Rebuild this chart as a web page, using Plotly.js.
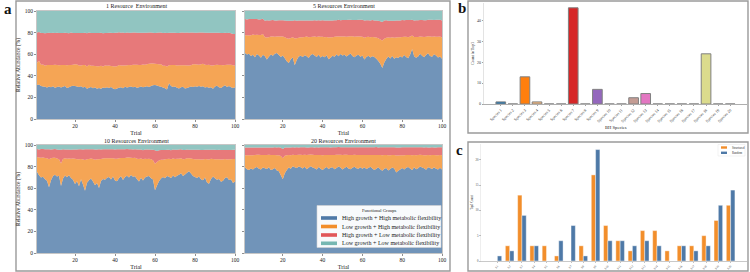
<!DOCTYPE html>
<html>
<head>
<meta charset="utf-8">
<script src="https://cdn.plot.ly/plotly-3.0.1.min.js"></script>
<style>
  html, body { margin: 0; padding: 0; background: #fff; }
  #chart { width: 750px; height: 272px; }
</style>
</head>
<body>
<div id="chart"></div>
<script>
// ---------- Panel a: relative abundance of functional groups per trial ----------
const groupNames = [
  'High growth + High metabolic flexibility',
  'Low growth + High metabolic flexibility',
  'High growth + Low metabolic flexibility',
  'Low growth + Low metabolic flexibility'
];
const envTitles = [
  '1 Resource  Environment',
  '5 Resources Environment',
  '10 Resources Environment',
  '20 Resources Environment'
];

// 1 resource
const r1HighHigh = [
  31.5, 32.0, 30.5, 30.0, 29.8, 29.2, 30.1, 29.5, 30.4, 29.0,
  29.6, 30.2, 29.1, 29.9, 30.5, 28.8, 29.4, 30.3, 30.8, 30.6,
  30.0, 29.7, 30.4, 29.2, 29.9, 28.1, 28.9, 29.6, 28.4, 29.3,
  28.0, 28.6, 27.9, 29.1, 28.7, 29.5, 28.8, 29.6, 28.2, 27.6,
  28.3, 28.9, 29.4, 28.5, 29.8, 29.1, 29.6, 30.0, 29.3, 29.8,
  28.9, 29.5, 30.1, 29.4, 29.9, 30.3, 29.7, 30.6, 31.2, 31.5,
  31.0, 30.4, 29.8, 29.1, 28.4, 27.2, 33.0, 30.5, 29.6, 30.2,
  29.0, 28.3, 29.4, 29.9, 28.2, 28.8, 29.5, 30.2, 29.7, 30.4,
  29.8, 30.6, 29.9, 30.3, 29.1, 29.7, 28.9, 29.5, 27.9, 30.1,
  30.9, 29.4, 28.7, 30.0, 31.2, 29.6, 30.5, 29.3, 28.8, 29.4
];
const r1LowHigh = [
  20.5, 22.0, 19.8, 20.4, 19.6, 20.8, 19.9, 20.6, 19.7, 21.2,
  20.3, 19.6, 20.9, 20.1, 19.4, 21.0, 20.5, 19.8, 19.5, 20.0,
  20.4, 19.9, 19.2, 20.8, 20.1, 20.6, 21.3, 19.7, 21.0, 19.8,
  20.9, 20.2, 21.5, 19.6, 20.8, 19.9, 20.7, 19.5, 20.6, 21.0,
  20.5, 21.2, 20.1, 21.0, 19.8, 20.6, 20.3, 19.7, 20.9, 20.4,
  21.3, 20.6, 20.0, 21.1, 20.3, 20.5, 21.4, 20.8, 20.2, 19.6,
  19.9, 20.3, 20.9, 20.2, 20.8, 21.5, 16.8, 19.6, 20.5, 19.8,
  20.6, 21.4, 20.3, 19.9, 21.6, 20.8, 20.1, 19.5, 20.9, 20.2,
  20.6, 19.7, 20.8, 20.9, 21.2, 20.4, 21.3, 20.1, 21.6, 19.8,
  19.4, 20.5, 21.2, 19.8, 18.9, 20.6, 19.7, 20.9, 21.0, 19.8
];
const r1HighLow = [
  28.2, 26.5, 29.4, 29.3, 30.1, 29.6, 29.8, 29.5, 29.7, 29.4,
  29.9, 29.8, 29.6, 29.7, 29.9, 29.8, 29.6, 29.9, 29.3, 29.0,
  29.2, 30.1, 30.0, 29.6, 29.8, 30.8, 29.9, 30.3, 30.2, 30.5,
  30.7, 30.9, 30.4, 30.6, 30.2, 30.3, 30.4, 30.7, 30.9, 31.2,
  31.0, 30.2, 30.4, 30.5, 30.1, 30.3, 29.9, 30.1, 29.8, 29.9,
  29.6, 29.8, 29.7, 29.4, 29.7, 29.1, 28.9, 28.7, 28.4, 28.6,
  28.9, 29.5, 29.3, 30.4, 30.6, 31.0, 30.1, 29.8, 29.7, 29.9,
  30.1, 30.0, 30.3, 30.2, 30.1, 30.4, 30.2, 30.5, 29.6, 29.3,
  29.5, 29.9, 29.3, 29.0, 29.6, 29.8, 29.6, 30.2, 30.4, 30.0,
  29.6, 30.0, 29.8, 29.9, 29.7, 29.5, 29.6, 29.1, 29.0, 29.4
];

// 5 resources
const r5HighHigh = [
  61.2, 59.8, 60.5, 58.4, 59.6, 57.2, 60.1, 58.9, 56.8, 59.4,
  58.2, 55.1, 57.6, 59.8, 58.5, 60.4, 61.0, 59.2, 57.4, 58.8,
  56.2, 53.5, 51.8, 55.4, 57.0, 49.8, 54.6, 57.9, 58.6, 57.3,
  59.1, 58.0, 56.5, 59.3, 60.2, 58.7, 57.5, 59.6, 56.9, 58.4,
  57.2, 59.0, 55.3, 56.8, 58.5, 57.6, 59.9, 58.1, 60.3, 58.7,
  59.5, 57.8, 59.2, 60.6, 58.3, 57.1, 58.9, 59.6, 57.7, 58.9,
  55.2, 57.4, 58.6, 56.9, 58.0, 57.3, 55.8, 53.6, 51.2, 47.3,
  52.4, 55.6, 57.9, 56.1, 58.3, 55.8, 57.2, 56.4, 58.1, 57.0,
  59.2, 57.5, 56.3, 59.8, 64.8, 58.2, 56.7, 57.9, 60.4, 58.6,
  57.1, 59.3, 60.8, 58.4, 57.6, 59.9, 58.8, 56.9, 57.8, 55.9
];
const r5LowHigh = [
  16.4, 17.8, 16.9, 19.2, 18.6, 20.5, 17.8, 18.9, 21.0, 19.3,
  17.6, 20.4, 18.2, 16.5, 17.8, 15.8, 15.4, 17.3, 18.9, 17.5,
  19.6, 21.3, 22.6, 19.5, 18.6, 24.8, 20.1, 17.4, 17.2, 18.5,
  16.8, 18.3, 19.2, 16.7, 15.9, 17.6, 18.4, 16.8, 19.3, 17.7,
  18.4, 16.9, 20.1, 18.8, 17.2, 18.5, 16.4, 18.2, 16.1, 17.6,
  16.8, 18.4, 17.2, 16.1, 18.3, 19.0, 17.6, 16.9, 18.8, 17.2,
  20.1, 18.5, 17.6, 18.9, 17.9, 18.4, 19.6, 21.2, 22.5, 25.4,
  21.8, 19.7, 17.6, 19.2, 17.4, 19.5, 18.2, 19.4, 17.6, 18.9,
  16.9, 18.6, 19.4, 16.5, 12.6, 17.8, 19.2, 18.1, 15.9, 17.5,
  18.8, 16.9, 15.8, 17.9, 18.6, 16.5, 17.3, 19.2, 18.5, 19.6
];
const r5HighLow = [
  14.9, 14.6, 15.3, 14.9, 14.4, 14.8, 14.7, 14.3, 14.6, 14.1,
  15.2, 16.0, 15.4, 15.1, 15.3, 15.0, 14.8, 14.9, 15.2, 15.1,
  15.3, 16.2, 16.5, 16.1, 15.4, 16.8, 16.3, 15.8, 15.3, 15.4,
  15.2, 14.8, 15.5, 15.1, 15.0, 15.2, 15.4, 15.0, 15.1, 15.3,
  15.6, 15.4, 15.9, 15.7, 15.5, 15.3, 15.2, 15.6, 15.1, 15.4,
  15.3, 15.4, 15.5, 15.2, 15.0, 15.6, 15.2, 15.5, 15.3, 15.7,
  16.0, 15.6, 15.3, 15.5, 15.8, 15.6, 15.9, 16.1, 16.8, 17.2,
  16.9, 16.2, 15.4, 15.7, 15.3, 15.6, 15.8, 15.4, 15.5, 15.7,
  15.3, 15.5, 15.9, 15.4, 14.6, 15.3, 15.6, 15.5, 15.4, 15.6,
  15.6, 15.3, 15.2, 15.7, 15.6, 15.3, 15.7, 15.8, 15.6, 15.8
];

// 10 resources
const r10HighHigh = [
  75.2, 72.1, 69.8, 70.6, 68.4, 66.9, 60.8, 67.3, 71.2, 72.4,
  70.8, 71.5, 62.1, 68.9, 71.8, 70.2, 72.0, 69.5, 67.8, 63.9,
  66.5, 61.8, 68.2, 63.4, 57.6, 65.1, 67.4, 69.0, 66.2, 62.8,
  64.9, 60.3, 66.7, 68.5, 67.9, 69.6, 70.3, 68.1, 70.8, 67.2,
  66.4, 69.3, 71.1, 67.6, 70.4, 71.5, 69.8, 72.3, 70.6, 71.0,
  68.4, 66.3, 69.7, 67.1, 69.9, 70.8, 71.4, 69.2, 68.0, 58.1,
  62.5, 66.4, 68.9, 70.3, 69.1, 71.2, 70.5, 69.4, 71.8, 70.2,
  71.6, 72.4, 73.9, 71.2, 72.8, 74.3, 75.8, 73.6, 71.4, 70.3,
  69.5, 70.8, 68.2, 67.4, 69.9, 65.3, 64.2, 68.6, 70.9, 69.1,
  67.8, 68.5, 65.9, 66.8, 69.4, 70.1, 67.5, 68.2, 64.8, 66.3
];
const r10LowHigh = [
  13.8, 16.4, 18.5, 17.9, 19.6, 20.8, 26.1, 20.4, 16.9, 15.8,
  16.7, 15.4, 20.8, 18.2, 16.0, 17.1, 15.6, 17.8, 19.6, 23.4,
  20.2, 24.9, 18.8, 23.1, 28.4, 21.8, 19.7, 18.5, 20.9, 23.6,
  21.8, 26.4, 20.3, 18.9, 19.8, 18.1, 17.5, 19.6, 17.0, 20.1,
  20.9, 18.4, 16.8, 20.3, 17.6, 16.9, 18.6, 15.9, 17.4, 17.2,
  18.9, 20.7, 17.8, 19.6, 17.3, 16.2, 15.8, 17.6, 17.9, 24.6,
  21.8, 19.2, 17.4, 16.1, 17.6, 15.9, 16.8, 17.3, 15.8, 16.9,
  15.7, 14.8, 13.9, 15.6, 14.2, 13.5, 11.9, 13.8, 15.6, 16.4,
  17.2, 16.1, 18.3, 19.2, 17.1, 21.4, 22.3, 18.6, 16.2, 17.8,
  19.1, 18.4, 20.6, 19.8, 17.6, 16.5, 19.4, 18.6, 22.3, 20.8
];
const r10HighLow = [
  7.2, 7.4, 7.9, 7.8, 8.0, 8.4, 9.1, 8.2, 7.9, 8.0,
  8.3, 8.6, 12.6, 8.9, 8.1, 8.5, 8.2, 8.4, 8.5, 8.6,
  9.1, 9.3, 9.0, 9.4, 10.1, 9.2, 8.9, 8.6, 9.0, 9.4,
  9.2, 9.4, 8.9, 8.7, 8.4, 8.3, 8.2, 8.4, 8.3, 8.6,
  8.7, 8.4, 8.2, 8.1, 8.0, 7.9, 7.6, 7.8, 7.9, 7.8,
  8.6, 8.9, 8.4, 8.5, 8.6, 8.9, 8.7, 8.8, 9.6, 12.4,
  10.1, 9.5, 9.0, 8.9, 8.6, 8.4, 8.2, 8.5, 8.3, 8.6,
  8.4, 8.6, 8.2, 8.5, 8.4, 8.1, 7.9, 8.2, 8.6, 8.9,
  8.8, 8.7, 8.9, 8.8, 8.7, 8.9, 9.1, 8.4, 8.6, 8.7,
  8.5, 8.6, 8.9, 8.7, 8.4, 8.8, 8.5, 8.6, 8.4, 8.6
];

// 20 resources
const r20HighHigh = [
  79.1, 77.6, 76.8, 78.2, 77.4, 78.9, 79.6, 78.1, 77.3, 79.2,
  78.5, 77.8, 79.4, 76.9, 77.6, 78.8, 76.4, 75.8, 72.1, 68.3,
  73.9, 76.8, 79.2, 78.1, 80.4, 79.3, 78.6, 80.1, 79.5, 78.2,
  79.8, 77.6, 78.9, 80.3, 79.1, 78.4, 77.2, 79.6, 78.1, 76.9,
  78.5, 79.7, 77.8, 78.9, 79.4, 77.6, 78.8, 80.2, 79.1, 77.3,
  78.6, 79.9, 78.2, 77.5, 78.9, 79.8, 78.4, 77.9, 79.3, 78.1,
  79.4, 77.8, 78.6, 79.9, 78.2, 76.8, 78.1, 79.5, 77.6, 76.2,
  77.9, 78.8, 76.5, 77.8, 79.1, 78.3, 74.6, 76.1, 77.4, 78.6,
  77.2, 78.9, 79.6, 78.2, 76.9, 79.4, 77.6, 78.5, 80.1, 79.2,
  78.4, 77.1, 79.3, 78.6, 77.8, 79.5, 78.1, 77.4, 78.9, 77.2
];
const r20LowHigh = [
  11.4, 12.9, 13.6, 12.4, 13.2, 11.9, 11.3, 12.8, 13.4, 11.6,
  12.3, 12.9, 11.5, 13.8, 13.1, 12.0, 14.2, 14.8, 17.6, 19.4,
  16.2, 13.7, 11.6, 12.5, 10.6, 11.4, 12.2, 10.9, 11.5, 12.6,
  11.2, 13.1, 12.0, 10.8, 11.9, 12.4, 13.5, 11.2, 12.6, 13.7,
  12.2, 11.1, 12.9, 11.8, 11.4, 13.2, 12.1, 10.7, 11.8, 13.4,
  12.3, 11.0, 12.6, 13.2, 11.8, 11.1, 12.4, 12.8, 11.5, 12.7,
  11.4, 12.9, 12.1, 10.9, 12.5, 13.9, 12.6, 11.2, 13.1, 14.3,
  12.8, 11.9, 14.1, 12.8, 11.6, 12.4, 15.6, 14.2, 13.1, 12.0,
  13.4, 11.8, 11.2, 12.5, 13.6, 11.3, 13.0, 12.2, 10.8, 11.5,
  12.2, 13.5, 11.4, 12.0, 12.9, 11.2, 12.5, 13.2, 11.8, 13.4
];
const r20HighLow = [
  7.2, 7.1, 7.3, 7.2, 7.0, 6.9, 6.8, 6.9, 7.1, 7.0,
  6.8, 7.0, 6.9, 7.1, 7.0, 7.1, 7.2, 7.3, 7.8, 8.6,
  7.7, 7.2, 7.0, 7.1, 6.9, 7.0, 7.1, 6.8, 6.9, 7.1,
  6.9, 7.1, 6.9, 6.8, 6.9, 7.0, 7.2, 7.0, 7.2, 7.3,
  7.2, 7.1, 7.3, 7.1, 7.2, 7.1, 7.0, 7.2, 7.1, 7.2,
  7.0, 7.0, 7.1, 7.2, 7.3, 7.0, 7.1, 7.2, 7.2, 7.1,
  7.1, 7.2, 7.3, 7.2, 7.2, 7.3, 7.4, 7.1, 7.3, 7.4,
  7.3, 7.2, 7.3, 7.4, 7.2, 7.3, 7.6, 7.5, 7.3, 7.4,
  7.3, 7.2, 7.1, 7.3, 7.4, 7.2, 7.3, 7.2, 7.0, 7.2,
  7.2, 7.3, 7.1, 7.2, 7.3, 7.1, 7.2, 7.3, 7.2, 7.3
];

// ---------- Panel b: how often each BH species ranks first ----------
const bhSpecies = [
  'Species 1', 'Species 2', 'Species 3', 'Species 4', 'Species 5',
  'Species 6', 'Species 7', 'Species 8', 'Species 9', 'Species 10',
  'Species 11', 'Species 12', 'Species 13', 'Species 14', 'Species 15',
  'Species 16', 'Species 17', 'Species 18', 'Species 19', 'Species 20'
];
const topCounts = [1, 0, 13, 1, 0, 0, 46, 0, 7, 0, 0, 3, 5, 0, 0, 0, 0, 24, 0, 0];

// ---------- Panel c: top-1 counts, structured vs random ----------
const siteLabels = [
  'S1', 'S2', 'S3', 'S4', 'S5', 'S6', 'S7', 'S8', 'S9', 'S10',
  'S11', 'S12', 'S13', 'S14', 'S15', 'S16', 'S17', 'S18', 'S19', 'S20'
];
const structuredCounts = [0, 3, 13, 3, 3, 1, 0, 3, 17, 7, 4, 2, 6, 6, 2, 3, 3, 5, 8, 11];
const randomCounts     = [1, 2, 9, 3, 0, 4, 7, 1, 22, 4, 4, 3, 4, 3, 0, 3, 2, 3, 11, 14];
const seriesNames = ['Structured', 'Random'];

// ---------- styling ----------
const W = 750, H = 272;
const SERIF = 'Liberation Serif, Times New Roman, serif';
const px = (a, b) => [a / W, b / W];
const py = (top, bottom) => [1 - bottom / H, 1 - top / H];
const fx = v => v / W;
const fy = v => 1 - v / H;

const areaFill = ['rgba(78,121,167,0.8)', 'rgba(242,142,43,0.8)', 'rgba(225,87,89,0.8)', 'rgba(118,183,178,0.8)'];
const groupSolid = ['#4e79a7', '#f28e2b', '#e15759', '#76b7b2'];
const tab20 = ['#1f77b4', '#aec7e8', '#ff7f0e', '#ffbb78', '#2ca02c', '#98df8a', '#d62728', '#ff9896',
               '#9467bd', '#c5b0d5', '#8c564b', '#c49c94', '#e377c2', '#f7b6d2', '#7f7f7f', '#c7c7c7',
               '#bcbd22', '#dbdb8d', '#17becf', '#9edae5'];

const trials = Array.from({ length: r1HighHigh.length }, (_, i) => i + 1);
const envGroups = [
  [r1HighHigh, r1LowHigh, r1HighLow],
  [r5HighHigh, r5LowHigh, r5HighLow],
  [r10HighHigh, r10LowHigh, r10HighLow],
  [r20HighHigh, r20LowHigh, r20HighLow]
];

const traces = [];
envGroups.forEach((groups, e) => {
  // the fourth group makes up the remainder of 100 %
  const remainder = trials.map((_, i) => +(100 - groups[0][i] - groups[1][i] - groups[2][i]).toFixed(2));
  const series = groups.concat([remainder]);
  const ax = e === 0 ? '' : String(e + 1);
  series.forEach((vals, g) => {
    traces.push({
      type: 'scatter', x: trials, y: vals, mode: 'none',
      stackgroup: 'env' + e, fillcolor: areaFill[g], name: groupNames[g],
      xaxis: 'x' + ax, yaxis: 'y' + ax, showlegend: false, hoverinfo: 'skip'
    });
  });
});

traces.push({
  type: 'bar', x: bhSpecies, y: topCounts, width: 0.8,
  marker: { color: tab20, line: { color: '#808080', width: 1 } },
  xaxis: 'x5', yaxis: 'y5', showlegend: false
});
traces.push({
  type: 'bar', x: siteLabels, y: structuredCounts, name: seriesNames[0],
  marker: { color: '#f28e2b', line: { color: '#ffffff', width: 0.4 } },
  xaxis: 'x6', yaxis: 'y6', showlegend: false
});
traces.push({
  type: 'bar', x: siteLabels, y: randomCounts, name: seriesNames[1],
  marker: { color: '#4e79a7', line: { color: '#ffffff', width: 0.4 } },
  xaxis: 'x6', yaxis: 'y6', showlegend: false
});

const tickFontA = { family: SERIF, size: 5.5, color: '#222' };
function trialAxis(domain, anchor) {
  return {
    domain, anchor, range: [1, 100], tickvals: [20, 40, 60, 80, 100],
    ticks: 'outside', ticklen: 2, tickwidth: 0.6, tickcolor: '#444',
    tickfont: tickFontA, showgrid: false, zeroline: false,
    showline: true, mirror: true, linecolor: '#b8b8b8', linewidth: 0.8,
    title: { text: 'Trial', font: { family: SERIF, size: 6, color: '#222' }, standoff: 2 }
  };
}
function abundAxis(domain, anchor, labels) {
  return {
    domain, anchor, range: [0, 100], tickvals: [0, 20, 40, 60, 80, 100],
    ticks: 'outside', ticklen: 2, tickwidth: 0.6, tickcolor: '#444',
    showticklabels: labels, tickfont: tickFontA, showgrid: false, zeroline: false,
    showline: true, mirror: true, linecolor: '#b8b8b8', linewidth: 0.8,
    title: labels ? { text: 'Relative Abundance (%)', font: { family: SERIF, size: 5.5, color: '#222' }, standoff: 3 } : { text: '' }
  };
}

const colL = [37, 235], colR = [245, 442], rowT = [11, 119], rowB = [145, 253];

const layout = {
  width: W, height: H, margin: { l: 0, r: 0, t: 0, b: 0 },
  paper_bgcolor: '#ffffff', plot_bgcolor: '#ffffff',
  showlegend: false, barmode: 'group', bargap: 0.3, bargroupgap: 0,
  font: { family: SERIF, color: '#222' },

  xaxis:  trialAxis(px(...colL), 'y'),
  yaxis:  abundAxis(py(...rowT), 'x', true),
  xaxis2: trialAxis(px(...colR), 'y2'),
  yaxis2: abundAxis(py(...rowT), 'x2', false),
  xaxis3: trialAxis(px(...colL), 'y3'),
  yaxis3: abundAxis(py(...rowB), 'x3', true),
  xaxis4: trialAxis(px(...colR), 'y4'),
  yaxis4: abundAxis(py(...rowB), 'x4', false),

  xaxis5: {
    domain: px(484, 747), anchor: 'y5', type: 'category', range: [-1.39, 20.39],
    tickangle: -45, ticks: 'outside', ticklen: 1.5, tickwidth: 0.5, tickcolor: '#444',
    tickfont: { family: SERIF, size: 4, color: '#333' },
    showline: true, linecolor: '#9a9a9a', linewidth: 0.8, showgrid: false, zeroline: false
  },
  yaxis5: {
    domain: py(3, 104), anchor: 'x5', range: [0, 48.3], tickvals: [0, 10, 20, 30, 40],
    ticks: 'outside', ticklen: 1.5, tickwidth: 0.5, tickcolor: '#444',
    tickfont: { family: SERIF, size: 4, color: '#333' },
    showline: true, linecolor: '#d0d0d0', linewidth: 0.6, showgrid: false, zeroline: false,
    title: { text: 'Count in Top1', font: { family: SERIF, size: 4, color: '#222' }, standoff: 2 }
  },
  xaxis6: {
    domain: px(481, 747), anchor: 'y6', type: 'category', range: [-1.335, 20.335],
    tickangle: -45, ticks: 'outside', ticklen: 1.5, tickwidth: 0.4, tickcolor: '#666',
    tickfont: { family: SERIF, size: 3, color: '#444' },
    showline: true, linecolor: '#bbbbbb', linewidth: 0.8, showgrid: false, zeroline: false
  },
  yaxis6: {
    domain: py(144, 261), anchor: 'x6', range: [0, 23.1], tickvals: [0, 5, 10, 15, 20],
    ticks: 'outside', ticklen: 1.5, tickwidth: 0.4, tickcolor: '#666',
    tickfont: { family: SERIF, size: 3, color: '#444' },
    showline: true, linecolor: '#dddddd', linewidth: 0.5, showgrid: false, zeroline: false,
    title: { text: 'Top1 Count', font: { family: SERIF, size: 3, color: '#333' }, standoff: 2 }
  },

  shapes: [],
  annotations: []
};

// panel frames
[[16, 1, 450, 271], [468, 1, 748, 133], [468, 142, 748, 271]].forEach(([x0, y0, x1, y1]) => {
  layout.shapes.push({ type: 'rect', xref: 'paper', yref: 'paper',
    x0: fx(x0), x1: fx(x1), y0: fy(y1), y1: fy(y0),
    line: { color: '#9a9a9a', width: 1.4 }, fillcolor: 'rgba(0,0,0,0)' });
});

// panel letters
[['a', 8, 9], ['b', 462, 8], ['c', 460, 150]].forEach(([t, x, y]) => {
  layout.annotations.push({ text: '<b>' + t + '</b>', xref: 'paper', yref: 'paper',
    x: fx(x), y: fy(y), xanchor: 'center', yanchor: 'middle', showarrow: false,
    font: { family: SERIF, size: 15, color: '#111' } });
});

// x title of panel b, centred under the species axis
layout.annotations.push({ text: 'BH Species', xref: 'paper', yref: 'paper',
  x: fx(616), y: fy(127.5), xanchor: 'center', yanchor: 'middle', showarrow: false,
  font: { family: SERIF, size: 4.6, color: '#222' } });

// environment titles
[[colL, 6], [colR, 6], [colL, 140.5], [colR, 140.5]].forEach(([col, y], i) => {
  layout.annotations.push({ text: envTitles[i], xref: 'paper', yref: 'paper',
    x: fx((col[0] + col[1]) / 2), y: fy(y), xanchor: 'center', yanchor: 'middle', showarrow: false,
    font: { family: SERIF, size: 6, color: '#222' } });
});

// functional-group key inside the 20 resources panel
layout.shapes.push({ type: 'rect', xref: 'paper', yref: 'paper',
  x0: fx(317), x1: fx(441), y0: fy(247.5), y1: fy(205.5),
  line: { color: '#d4d4d4', width: 0.6 }, fillcolor: 'rgba(255,255,255,0.95)', layer: 'above' });
layout.annotations.push({ text: 'Functional Groups', xref: 'paper', yref: 'paper',
  x: fx(379), y: fy(210.5), xanchor: 'center', yanchor: 'middle', showarrow: false,
  font: { family: SERIF, size: 4.6, color: '#222' } });
[218, 226.5, 235, 243.3].forEach((y, g) => {
  layout.shapes.push({ type: 'rect', xref: 'paper', yref: 'paper',
    x0: fx(321), x1: fx(337), y0: fy(y + 1.8), y1: fy(y - 1.8),
    line: { width: 0 }, fillcolor: groupSolid[g], layer: 'above' });
  layout.annotations.push({ text: groupNames[g], xref: 'paper', yref: 'paper',
    x: fx(340), y: fy(y), xanchor: 'left', yanchor: 'middle', showarrow: false,
    font: { family: SERIF, size: 6, color: '#222' } });
});

// structured / random key in panel c
layout.shapes.push({ type: 'rect', xref: 'paper', yref: 'paper',
  x0: fx(718), x1: fx(745), y0: fy(156), y1: fy(144.5),
  line: { color: '#e0e0e0', width: 0.4 }, fillcolor: '#ffffff', layer: 'above' });
[['#f28e2b', 147.5], ['#4e79a7', 152.8]].forEach(([c, y], k) => {
  layout.shapes.push({ type: 'rect', xref: 'paper', yref: 'paper',
    x0: fx(721), x1: fx(727), y0: fy(y + 1.2), y1: fy(y - 1.2),
    line: { width: 0 }, fillcolor: c, layer: 'above' });
  layout.annotations.push({ text: seriesNames[k], xref: 'paper', yref: 'paper',
    x: fx(729.5), y: fy(y), xanchor: 'left', yanchor: 'middle', showarrow: false,
    font: { family: SERIF, size: 3, color: '#333' } });
});

Plotly.newPlot('chart', traces, layout, { staticPlot: true, displayModeBar: false });
</script>
</body>
</html>
